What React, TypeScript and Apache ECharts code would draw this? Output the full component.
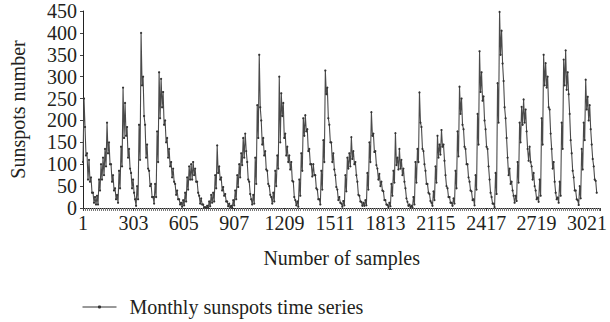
import { useEffect, useRef } from "react";
import * as echarts from "echarts";

// Semi-annual readings (every 6 monthly samples), starting at sample 1 (Jan 1749).
// Each year: upper and lower edge of the noisy monthly band.
const sampleStep = 6;
const sunspots: number[] = [
  // 1749-1758
  105, 250, 185, 120, 125, 65, 110, 60, 70, 35, 35, 12, 25, 8, 28, 8, 65, 40, 100, 65,
  // 1759-1768
  115, 75, 135, 95, 195, 125, 150, 100, 100, 60, 75, 40, 45, 20, 30, 12, 85, 45, 140, 95,
  // 1769-1778
  275, 160, 240, 165, 185, 115, 135, 90, 80, 45, 65, 35, 20, 5, 50, 20, 190, 110, 400, 280,
  // 1779-1788
  300, 210, 190, 115, 145, 90, 85, 50, 55, 25, 25, 10, 55, 25, 175, 105, 310, 205, 295, 230,
  // 1789-1798
  265, 190, 200, 150, 160, 115, 135, 95, 105, 70, 90, 60, 55, 30, 40, 20, 20, 8, 12, 3,
  // 1799-1808
  18, 6, 35, 15, 70, 42, 95, 65, 100, 65, 105, 75, 90, 60, 60, 35, 28, 10, 22, 8,
  // 1809-1818
  8, 1, 2, 0, 5, 0, 15, 4, 30, 12, 35, 15, 75, 45, 143, 80, 95, 65, 70, 40,
  // 1819-1828
  48, 28, 32, 15, 15, 4, 10, 2, 5, 0, 18, 6, 40, 20, 75, 48, 100, 70, 125, 98,
  // 1829-1838
  160, 115, 170, 130, 105, 65, 60, 32, 20, 8, 30, 10, 115, 55, 235, 160, 350, 230, 200, 145,
  // 1839-1848
  160, 120, 130, 88, 85, 55, 50, 30, 25, 10, 35, 15, 85, 50, 120, 90, 300, 150, 262, 210,
  // 1849-1858
  240, 160, 170, 120, 140, 105, 120, 88, 105, 62, 60, 25, 18, 6, 15, 3, 65, 28, 125, 85,
  // 1859-1868
  205, 165, 212, 175, 180, 130, 135, 100, 100, 72, 100, 75, 75, 45, 42, 20, 20, 8, 85, 42,
  // 1869-1878
  155, 105, 314, 260, 275, 205, 190, 150, 150, 105, 125, 88, 75, 48, 42, 18, 25, 12, 10, 3,
  // 1879-1888
  16, 6, 75, 38, 115, 90, 125, 95, 162, 112, 130, 100, 105, 75, 60, 30, 28, 15, 14, 5,
  // 1889-1898
  12, 5, 18, 6, 80, 42, 150, 105, 219, 165, 170, 128, 130, 98, 90, 65, 78, 50, 60, 40,
  // 1899-1908
  38, 18, 18, 8, 7, 2, 12, 4, 55, 28, 85, 58, 171, 98, 115, 88, 135, 90, 110, 75,
  // 1909-1918
  90, 60, 45, 22, 14, 5, 8, 2, 5, 1, 25, 8, 105, 58, 135, 105, 264, 195, 185, 135,
  // 1919-1928
  130, 100, 85, 55, 55, 35, 32, 16, 12, 5, 38, 18, 95, 58, 165, 115, 145, 122, 178, 140,
  // 1929-1938
  145, 108, 75, 50, 45, 25, 25, 12, 12, 5, 22, 10, 85, 45, 175, 118, 277, 215, 250, 190,
  // 1939-1948
  180, 140, 135, 100, 100, 70, 60, 40, 38, 18, 20, 6, 75, 42, 215, 145, 358, 265, 310, 245,
  // 1949-1958
  255, 200, 180, 140, 135, 95, 65, 35, 25, 10, 10, 2, 80, 32, 285, 195, 448, 350, 405, 330,
  // 1959-1968
  290, 230, 205, 160, 115, 75, 90, 55, 60, 40, 28, 12, 28, 16, 105, 58, 195, 150, 231, 190,
  // 1969-1978
  248, 195, 225, 175, 135, 108, 140, 105, 95, 65, 80, 50, 40, 20, 24, 14, 65, 28, 205, 145,
  // 1979-1988
  350, 280, 331, 275, 300, 230, 225, 170, 135, 90, 105, 60, 35, 20, 24, 12, 60, 28, 195, 135,
  // 1989-1998
  339, 280, 360, 270, 310, 260, 215, 155, 125, 85, 70, 40, 40, 20, 18, 7, 50, 22, 135, 88,
  // 1999-2005
  195, 155, 293, 225, 254, 200, 235, 180, 145, 112, 95, 65, 62, 35,
];

const xMin = 0;
const xMax = 3100;
const xInterval = 302;
const yMin = 0;
const yMax = 450;
const yInterval = 50;
const seriesName = "Monthly sunspots time series";
const xName = "Number of samples";
const yName = "Sunspots number";

const fontFamily = "'Liberation Serif', 'Times New Roman', serif";
const textColor = "#231f20";

export default function App() {
  const ref = useRef<HTMLDivElement>(null);
  useEffect(() => {
    if (!ref.current) return;
    const chart = echarts.init(ref.current, null, { renderer: "svg" });
    const data = sunspots.map((v, i) => [i * sampleStep, v]);
    chart.setOption({
      animation: false,
      grid: { left: 82, right: 2, top: 11, bottom: 114, containLabel: false },
      legend: {
        data: [seriesName],
        left: 82,
        top: 297,
        padding: 0,
        itemWidth: 34,
        itemHeight: 4,
        textStyle: { fontFamily, fontSize: 20, color: textColor, padding: [0, 0, 0, 8] },
        lineStyle: { color: "#333", width: 1 },
        itemStyle: { color: "#333" },
      },
      xAxis: {
        type: "value",
        min: xMin,
        max: xMax,
        interval: xInterval,
        name: xName,
        nameLocation: "middle",
        nameGap: 40,
        nameTextStyle: { fontFamily, fontSize: 20, color: textColor },
        axisLine: { show: true, lineStyle: { color: "#222", width: 1 } },
        axisTick: { show: true, length: 3, lineStyle: { color: "#444" } },
        minorTick: { show: true, splitNumber: 25, length: 3, lineStyle: { color: "#777" } },
        axisLabel: {
          formatter: (v: number) => String(v + 1),
          showMaxLabel: false,
          margin: 5,
          fontFamily,
          fontSize: 20,
          color: textColor,
        },
        splitLine: { show: false },
        minorSplitLine: { show: false },
      },
      yAxis: {
        type: "value",
        min: yMin,
        max: yMax,
        interval: yInterval,
        name: yName,
        nameLocation: "middle",
        nameGap: 55,
        nameTextStyle: { fontFamily, fontSize: 20, color: textColor },
        axisLine: { show: true, lineStyle: { color: "#222", width: 1 } },
        axisTick: { show: true, length: 3, lineStyle: { color: "#444" } },
        axisLabel: { margin: 6, fontFamily, fontSize: 20, color: textColor },
        splitLine: { show: false },
      },
      series: [
        {
          name: seriesName,
          type: "line",
          data,
          showSymbol: true,
          showAllSymbol: true,
          symbol: "circle",
          symbolSize: 2.2,
          itemStyle: { color: "#333" },
          lineStyle: { color: "#4a4a4a", width: 1.1 },
          emphasis: { disabled: true },
        },
      ],
    });
    return () => chart.dispose();
  }, []);
  return (
    <div
      ref={ref}
      style={{ position: "fixed", left: 0, top: 0, width: 610, height: 322, background: "#fff" }}
    />
  );
}
